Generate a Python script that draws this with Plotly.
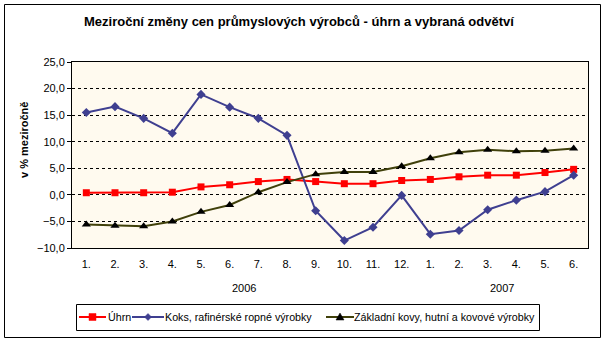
import plotly.graph_objects as go

# Months of 2006 (1.-12.) and 2007 (1.-6.)
months = ["1.", "2.", "3.", "4.", "5.", "6.", "7.", "8.", "9.", "10.", "11.", "12.",
          "1.", "2.", "3.", "4.", "5.", "6."]
years = ["2006", "2007"]

# Year-on-year change, %
uhrn = [0.4, 0.4, 0.4, 0.5, 1.5, 1.9, 2.5, 2.9, 2.5, 2.1, 2.1, 2.7,
        2.9, 3.4, 3.7, 3.7, 4.2, 4.8]
koks = [15.5, 16.6, 14.4, 11.6, 18.9, 16.5, 14.4, 11.2, -3.0, -8.6, -6.1, -0.1,
        -7.4, -6.7, -2.8, -1.0, 0.6, 3.7]
kovy = [-5.6, -5.8, -5.9, -5.0, -3.2, -1.9, 0.5, 2.4, 3.9, 4.3, 4.3, 5.4,
        6.9, 8.0, 8.5, 8.2, 8.3, 8.7]

series_names = ["Úhrn", "Koks, rafinérské ropné výrobky",
                "Základní kovy, hutní a kovové výrobky"]
series_colors = ["#FF0000", "#3F3F90", "#40400A"]
marker_colors = ["#FF0000", "#3F3F90", "#000000"]

y_ticks = [-10, -5, 0, 5, 10, 15, 20, 25]

FONT = "Liberation Sans, Arial, sans-serif"
W, H = 605, 342
ML, MR, MT, MB = 72, 17, 62, 94
PW, PH = W - ML - MR, H - MT - MB


def px(x):
    """page x pixel -> paper coordinate"""
    return (x - ML) / PW


def py(y):
    """page y pixel -> paper coordinate"""
    return (H - MB - y) / PH


xpos = list(range(len(months)))

fig = go.Figure()
fig.add_trace(go.Scatter(
    x=xpos, y=uhrn, name=series_names[0], mode="lines+markers",
    line=dict(color=series_colors[0], width=2),
    marker=dict(symbol="square", size=7, color=marker_colors[0])))
fig.add_trace(go.Scatter(
    x=xpos, y=koks, name=series_names[1], mode="lines+markers",
    line=dict(color=series_colors[1], width=2),
    marker=dict(symbol="diamond", size=7, color=marker_colors[1])))
fig.add_trace(go.Scatter(
    x=xpos, y=kovy, name=series_names[2], mode="lines+markers",
    line=dict(color=series_colors[2], width=2),
    marker=dict(symbol="triangle-up", size=8, color=marker_colors[2])))

annotations = []
# year labels centred under their months
year_centres = [5.5, 14.5]
for c, t in zip(year_centres, years):
    annotations.append(dict(x=c, y=py(288), xref="x", yref="paper", text=t,
                            yanchor="middle", showarrow=False,
                            font=dict(family=FONT, size=11, color="#000000")))
# chart title
annotations.append(dict(
    x=px(299), y=py(22), xref="paper", yref="paper", yanchor="middle",
    text="<b>Meziroční změny cen průmyslových výrobců - úhrn a vybraná odvětví</b>",
    showarrow=False, font=dict(family=FONT, size=13, color="#000000")))
# value axis title
annotations.append(dict(
    x=px(24), y=py(140), xref="paper", yref="paper", textangle=-90,
    xanchor="center", yanchor="middle",
    text="<b>v % meziročně</b>", showarrow=False,
    font=dict(family=FONT, size=11, color="#000000")))

shapes = [
    # outer chart frame
    dict(type="rect", xref="paper", yref="paper",
         x0=px(4.5), x1=px(600.5), y0=py(337.5), y1=py(4.5),
         line=dict(color="#000000", width=1), fillcolor="rgba(0,0,0,0)",
         layer="below"),
    # legend box
    dict(type="rect", xref="paper", yref="paper",
         x0=px(76.5), x1=px(539.5), y0=py(330.5), y1=py(304.5),
         line=dict(color="#000000", width=1), fillcolor="#FFFFFF",
         layer="below"),
]

# legend entries: sample line, marker, label
leg_y = 317
leg_lines = [(79, 106), (132, 164), (326, 354)]
leg_text_x = [106, 163, 352]
for i, ((a, b), tx) in enumerate(zip(leg_lines, leg_text_x)):
    shapes.append(dict(type="line", xref="paper", yref="paper",
                       x0=px(a), x1=px(b), y0=py(leg_y), y1=py(leg_y),
                       line=dict(color=series_colors[i], width=2)))
    cx = (a + b) / 2
    if i == 0:
        d = 3.5
        path = (f"M {px(cx-d)},{py(leg_y-d)} L {px(cx+d)},{py(leg_y-d)} "
                f"L {px(cx+d)},{py(leg_y+d)} L {px(cx-d)},{py(leg_y+d)} Z")
    elif i == 1:
        d = 3.5
        path = (f"M {px(cx)},{py(leg_y-d)} L {px(cx+d)},{py(leg_y)} "
                f"L {px(cx)},{py(leg_y+d)} L {px(cx-d)},{py(leg_y)} Z")
    else:
        d = 4
        path = (f"M {px(cx)},{py(leg_y-d)} L {px(cx+d)},{py(leg_y+d-1)} "
                f"L {px(cx-d)},{py(leg_y+d-1)} Z")
    shapes.append(dict(type="path", xref="paper", yref="paper", path=path,
                       fillcolor=marker_colors[i],
                       line=dict(color=marker_colors[i], width=0.5)))
    annotations.append(dict(x=px(tx), y=py(leg_y), xref="paper", yref="paper",
                            xanchor="left", yanchor="middle",
                            text=series_names[i], showarrow=False,
                            font=dict(family=FONT, size=10.7, color="#000000")))

fig.update_layout(
    width=W, height=H,
    margin=dict(l=ML, r=MR, t=MT, b=MB, autoexpand=False),
    paper_bgcolor="#FFFFFF",
    plot_bgcolor="#FFFAEF",
    separators=", ",
    showlegend=False,
    font=dict(family=FONT, size=11, color="#000000"),
    annotations=annotations,
    shapes=shapes,
)

fig.update_xaxes(
    range=[-0.5, len(months) - 0.5],
    tickmode="array", tickvals=xpos, ticktext=months,
    showgrid=False, zeroline=False,
    showline=True, linecolor="#000000", linewidth=1, mirror=True,
    ticks="", ticklabelstandoff=6, tickfont=dict(family=FONT, size=11),
)
fig.update_yaxes(
    range=[-10, 25], tickmode="array", tickvals=y_ticks,
    tickformat=".1f",
    showgrid=True, gridcolor="#000000", gridwidth=1, griddash="3px,3px",
    zeroline=False,
    showline=True, linecolor="#000000", linewidth=1, mirror=True,
    ticks="outside", ticklen=4, tickcolor="#000000",
    tickfont=dict(family=FONT, size=11),
)

fig.write_html("out.html")
